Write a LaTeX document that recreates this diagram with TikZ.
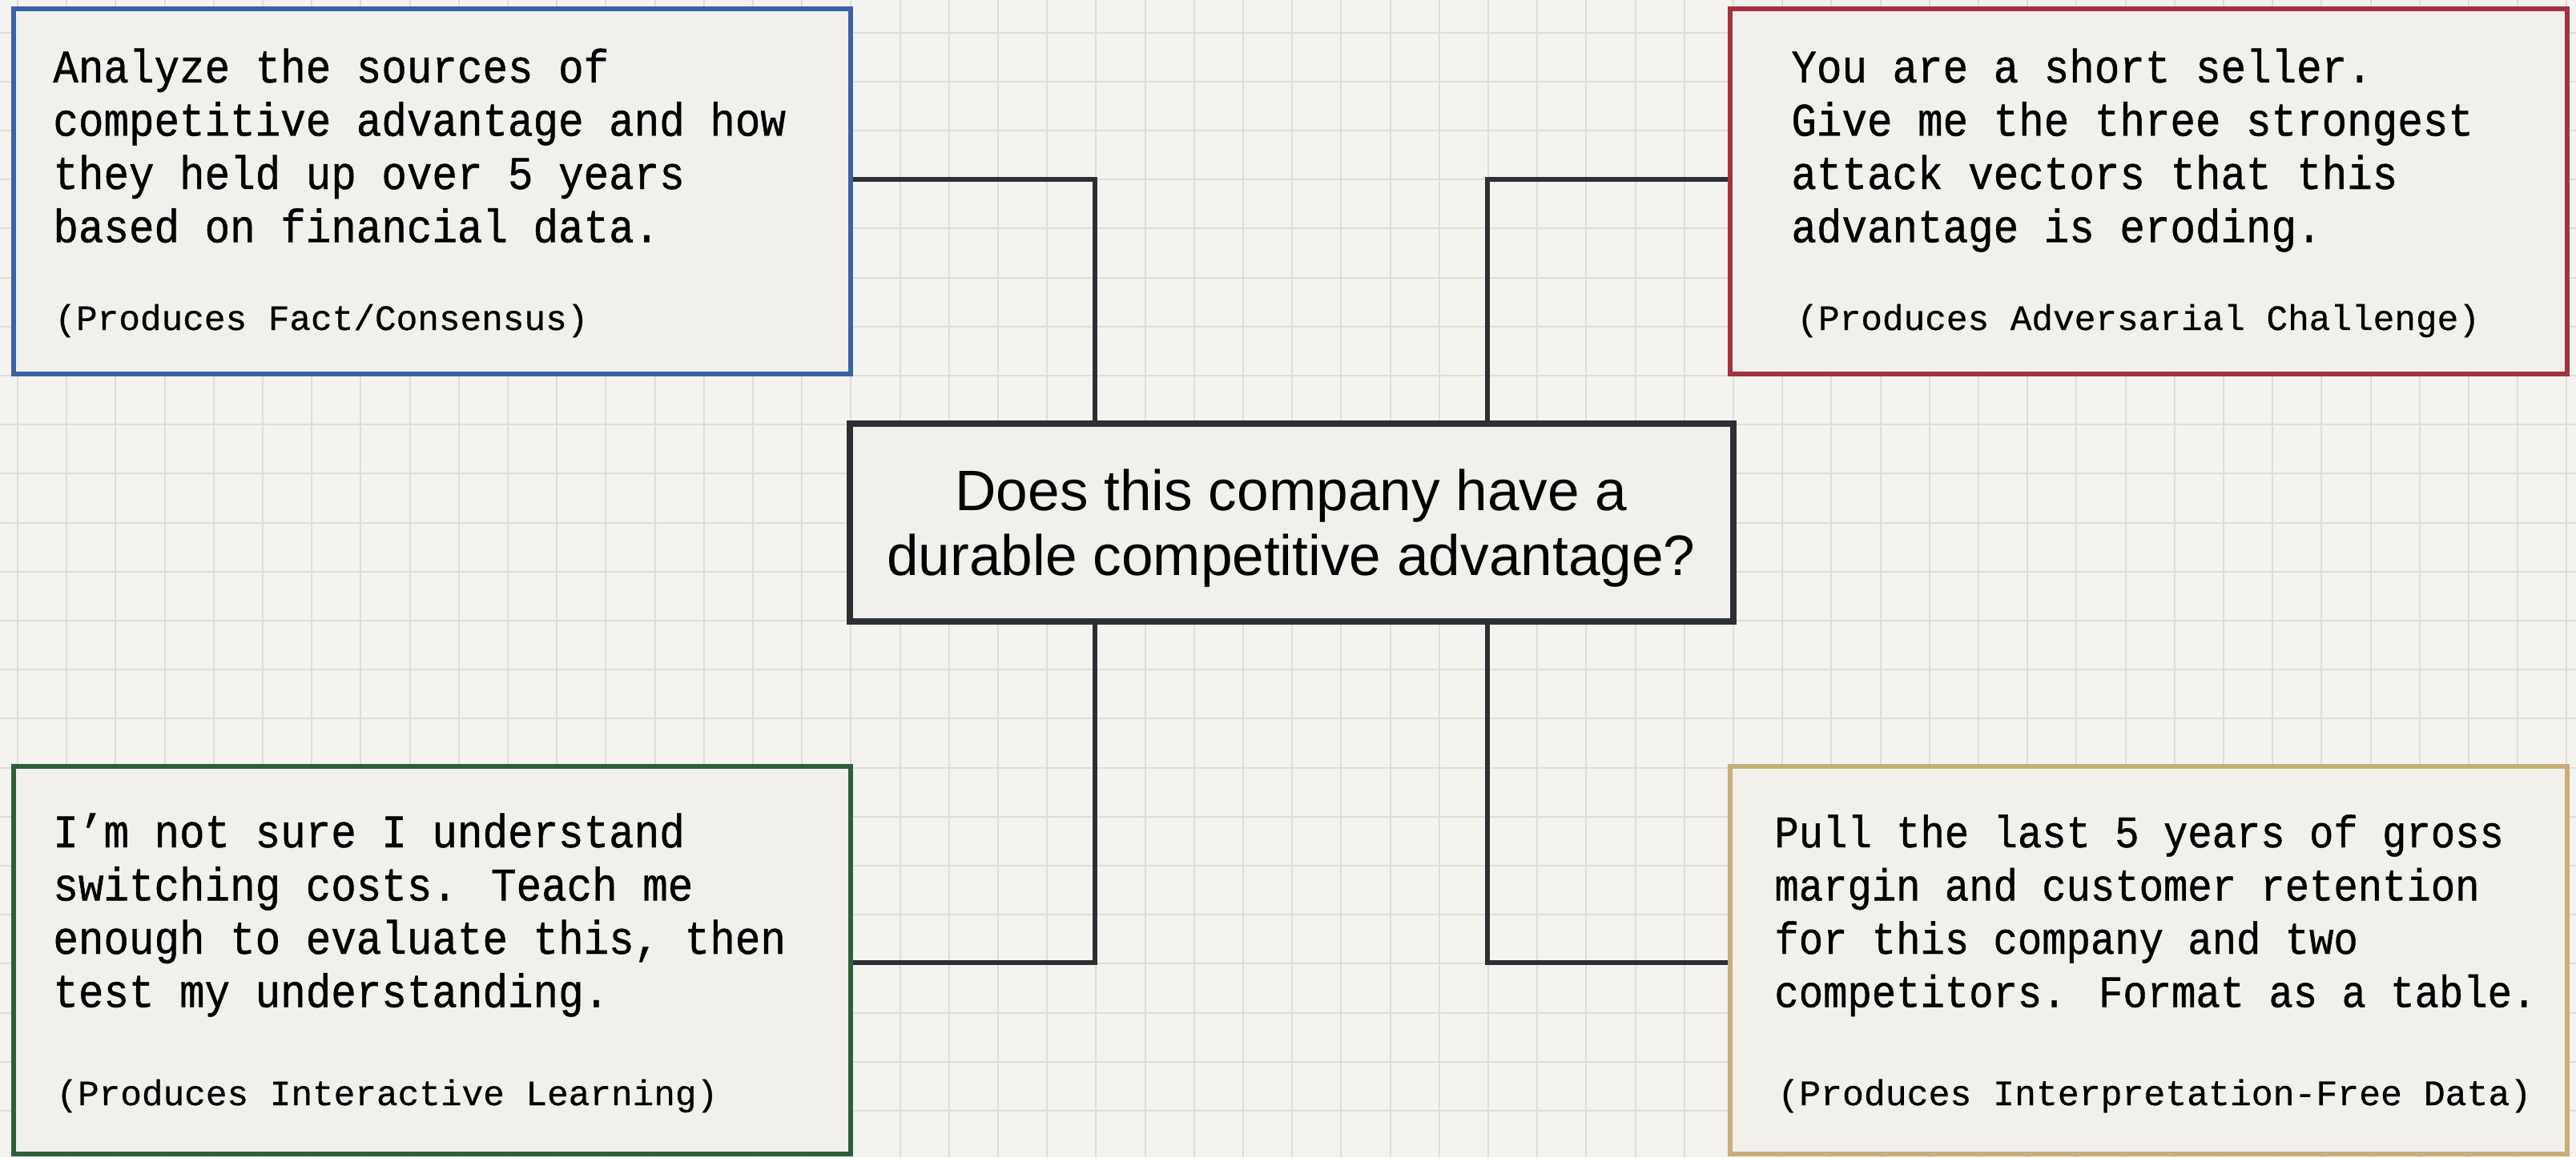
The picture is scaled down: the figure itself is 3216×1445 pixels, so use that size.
\documentclass[tikz,border=0pt]{standalone}
\usepackage{fontspec}
\setmainfont{Liberation Sans}
\newfontfamily\monomain[FakeStretch=0.9,FakeBold=0.8]{Liberation Mono}
\newfontfamily\monosub[FakeBold=0.6]{Liberation Mono}
\definecolor{paper}{HTML}{F4F3EF}
\definecolor{gridc}{HTML}{DEDDD8}
\definecolor{boxfill}{HTML}{F1F0EC}
\definecolor{cblue}{HTML}{3A62A6}
\definecolor{cred}{HTML}{A3323F}
\definecolor{cgreen}{HTML}{2F5E3B}
\definecolor{ctan}{HTML}{C8AE78}
\definecolor{cdark}{HTML}{2C2F34}
\pgfdeclarelayer{bg}
\pgfdeclarelayer{conn}
\pgfsetlayers{bg,conn,main}
\begin{document}
\begin{tikzpicture}[x=0.5pt,y=-0.5pt,
  gridline/.style={draw=gridc,line width=1pt},
  card/.style={rectangle,draw,line width=3pt,fill=boxfill,inner sep=0pt,
    minimum width=522.5pt,minimum height=228pt},
  hub/.style={rectangle,draw=cdark,line width=4pt,fill=boxfill,inner sep=0pt,
    minimum width=551.5pt,minimum height=123.5pt},
  ptext/.style={anchor=base west,inner sep=0pt,
    font=\monomain\fontsize{29.2}{33.25}\selectfont},
  ptag/.style={anchor=base west,inner sep=0pt,
    font=\monosub\fontsize{22.2}{26}\selectfont},
  link/.style={draw=cdark,line width=3pt,line join=miter}]
\useasboundingbox (0,0) rectangle (3216,1445);
\begin{pgfonlayer}{bg}
  \fill[paper] (0,0) rectangle (3216,1445);
  \foreach \k in {0,...,52} \draw[gridline] ({22+61.2*\k},0) -- ({22+61.2*\k},1445);
  \foreach \k in {0,...,23} \draw[gridline] (0,{40.6+61.2*\k}) -- (3216,{40.6+61.2*\k});
\end{pgfonlayer}

% boxes
\node[card,draw=cblue]  (tl) at (539.5,239) {};
\node[card,draw=cred]   (tr) at (2682,239) {};
\node[card,draw=cgreen,minimum height=242pt] (bl) at (539.5,1199) {};
\node[card,draw=ctan,minimum height=242pt]   (br) at (2682,1199) {};
\node[hub] (ctr) at (1612.5,652.5) {};

% texts
\node[ptext] (tlt) at (66,103) {\begin{tabular}[t]{@{}l@{}}Analyze the sources of\\competitive advantage and how\\they held up over 5 years\\based on financial data.\end{tabular}};
\node[ptag] (tlp) at (68,412) {(Produces Fact/Consensus)};

\node[ptext] (trt) at (2236,103) {\begin{tabular}[t]{@{}l@{}}You are a short seller.\\Give me the three strongest\\attack vectors that this\\advantage is eroding.\end{tabular}};
\node[ptag] (trp) at (2243,412) {(Produces Adversarial Challenge)};

\node[ptext] (blt) at (66,1058) {\begin{tabular}[t]{@{}l@{}}I’m not sure I understand\\switching costs. Teach me\\enough to evaluate this, then\\test my understanding.\end{tabular}};
\node[ptag] (blp) at (70,1380) {(Produces Interactive Learning)};

\node[ptext,font=\monomain\fontsize{28.1}{33.25}\selectfont] (brt) at (2215,1058) {\begin{tabular}[t]{@{}l@{}}Pull the last 5 years of gross\\margin and customer retention\\for this company and two\\competitors. Format as a table.\end{tabular}};
\node[ptag,font=\monosub\fontsize{22.4}{26}\selectfont] (brp) at (2219,1380) {(Produces Interpretation-Free Data)};

\node[anchor=base,inner sep=0pt,font=\fontsize{35.6}{40.5}\selectfont] (ctrt) at (1612,637)
  {\begin{tabular}[t]{@{}c@{}}Does this company have a\\durable competitive advantage?\end{tabular}};

% connectors
\coordinate (jl) at (1367,224);
\coordinate (jr) at (1857,224);
\coordinate (kl) at (1367,1202);
\coordinate (kr) at (1857,1202);
\begin{pgfonlayer}{conn}
  \draw[link] (tl.east |- jl) -| (jl |- ctr.north);
  \draw[link] (tr.west |- jr) -| (jr |- ctr.north);
  \draw[link] (bl.east |- kl) -| (kl |- ctr.south);
  \draw[link] (br.west |- kr) -| (kr |- ctr.south);
\end{pgfonlayer}
\end{tikzpicture}
\end{document}
